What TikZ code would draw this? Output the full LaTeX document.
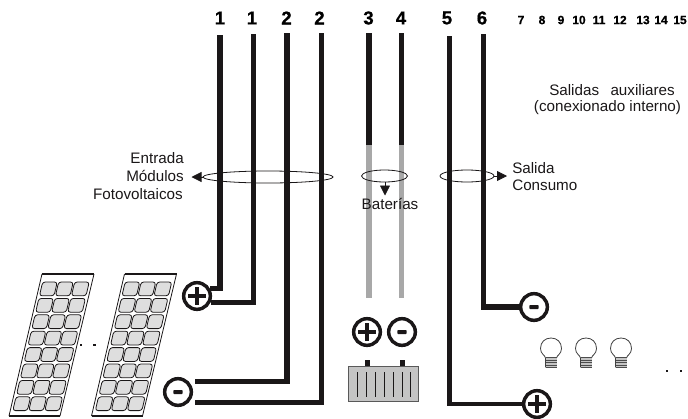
\documentclass[tikz,border=0pt]{standalone}
\usepackage{fontspec}
\setmainfont{Liberation Sans}
\newfontfamily\heavyfont{Liberation Sans Bold}[FakeBold=0.6]
\usetikzlibrary{arrows.meta}
\definecolor{wire}{HTML}{1A1718}
\definecolor{batwire}{HTML}{A8A8A8}
\definecolor{cell}{HTML}{DEDEDE}
\definecolor{batfill}{HTML}{C4C4C4}
\tikzset{
  x=0.75pt,y=-0.75pt,
  wirepath/.style={draw=wire,line width=3.9pt,line cap=butt,line join=miter},
  thinwire/.style={draw=wire,line width=3.3pt,line join=miter},
  graywire/.style={draw=batwire,line width=3.4pt},
  term/.style={circle,draw=wire,fill=white,line width=2.6pt,minimum size=20pt,inner sep=0pt},
  termplus/.style={term,path picture={
    \fill[wire] ([xshift=-6.6pt,yshift=-1.6pt]path picture bounding box.center) rectangle ++(13.2pt,3.2pt);
    \fill[wire] ([xshift=-1.6pt,yshift=-6.6pt]path picture bounding box.center) rectangle ++(3.2pt,13.2pt);}},
  termminus/.style={term,path picture={
    \fill[wire,rounded corners=0.5pt] ([xshift=-3.4pt,yshift=-1.5pt]path picture bounding box.center) rectangle ++(6.8pt,3pt);}},
  bignum/.style={font=\heavyfont\fontsize{14pt}{14pt}\selectfont,text=black,inner sep=0pt},
  smallnum/.style={font=\heavyfont\fontsize{9pt}{9pt}\selectfont,text=black,inner sep=0pt},
  lbl/.style={font=\fontsize{11.4pt}{11.4pt}\selectfont,text=wire,inner sep=0pt},
  ring/.style={draw=wire,line width=0.6pt},
  flow/.style={draw=wire,line width=0.6pt,-{Triangle[length=7.5pt,width=7.5pt]}},
  dotmark/.style={fill=wire,minimum size=2pt,inner sep=0pt},
  panelcell/.style={draw=wire,fill=cell,line width=0.6pt,rounded corners=2pt},
}
\begin{document}
\begin{tikzpicture}
\useasboundingbox (0,0) rectangle (688,418);
% numbers
\node[bignum] (n1) at (220,18) {1};
\node[bignum] (n2) at (252,18) {1};
\node[bignum] (n3) at (286.5,18) {2};
\node[bignum] (n4) at (319.5,18) {2};
\node[bignum] (n5) at (368.5,18) {3};
\node[bignum] (n6) at (401,18) {4};
\node[bignum] (n7) at (447,18) {5};
\node[bignum] (n8) at (482,18) {6};
\foreach \l/\px in {7/521,8/542,9/561,10/579,11/599,12/620,13/643,14/661,15/680}
  \node[smallnum] (s\l) at (\px,20) {\l};
% wire tops
\coordinate (w1) at (220,35);
\coordinate (w2) at (253.5,34);
\coordinate (w3) at (287,33);
\coordinate (w4) at (321.5,33);
\coordinate (w5) at (369,33);
\coordinate (w6) at (401.5,33);
\coordinate (w7) at (449.5,36);
\coordinate (w8) at (483.5,34);
\coordinate (b5) at (369,145);
\coordinate (b6) at (401.5,145);
% terminals
\node[termplus] (pL) at (197,296) {};
\node[termminus] (mL) at (178,392) {};
\node[termplus] (pB) at (367,332) {};
\node[termminus] (mB) at (402,332) {};
\node[termminus] (mR) at (534,307) {};
\node[termplus] (pR) at (537,404) {};
% wires
\draw[wirepath,line width=4.2pt] (w1) |- (pL.30);
\draw[wirepath] (w2) |- (pL.-26);
\draw[wirepath] (w3) |- ([xshift=4.5pt]mL.44);
\draw[thinwire] (w4) |- ([xshift=4.5pt]mL.-44);
\draw[thinwire,line width=3.9pt] (w5) -- (b5);
\draw[thinwire] (w6) -- (b6);
\draw[graywire,line width=3.9pt] (b5) -- (b5|-0,298);
\draw[graywire] (b6) -- (b6|-0,298);
\draw[thinwire] (w7) |- (pR.west);
\draw[wirepath] (w8) |- (mR.west);
% rings and labels
\draw[ring] (268,177) ellipse (65 and 6);
\draw[ring] (384.5,176) ellipse (23 and 6);
\draw[ring] (467,176) ellipse (27 and 6);
\coordinate (ringA) at (203,177);
\coordinate (ringB) at (385,182);
\coordinate (ringC) at (494,176);
\node[lbl,anchor=east] (ent) at (184,158) {Entrada};
\node[lbl,anchor=east] (mod) at (184,176) {Módulos};
\node[lbl,anchor=east] (fot) at (183,194) {Fotovoltaicos};
\node[lbl] (bat) at (390,204) {Baterías};
\node[lbl,anchor=west] (sal) at (512,168) {Salida};
\node[lbl,anchor=west] (con) at (512,185.5) {Consumo};
\node[lbl] (aux) at (612,90) {Salidas\hspace{0.75em}auxiliares};
\node[lbl] (int) at (607.5,108) {(conexionado interno)};
\draw[flow] (ringA) -- (191.5,177);
\draw[flow] (ringB) -- (385,195.5);
\draw[flow] (ringC) -- (507,176);
% solar panels
\foreach \dx in {0,82.5}{
  \draw[wire,line width=0.6pt] (42+\dx,274) -- (9+\dx,416);
  \draw[wire,line width=0.6pt] (94+\dx,274) -- (60+\dx,416);
  \draw[wire,line width=1.5pt] (42+\dx,274) -- (94+\dx,274);
  \draw[wire,line width=1.5pt] (9+\dx,416) -- (60+\dx,416);
  \foreach \r in {0,...,7}{
    \foreach \c in {0,1,2}{
      \pgfmathsetmacro{\yt}{282+16.4*\r}
      \pgfmathsetmacro{\yb}{\yt+13.8}
      \pgfmathsetmacro{\xt}{42-0.232*(\yt-274)+2.5+16*\c+\dx}
      \pgfmathsetmacro{\xb}{\xt-0.232*13.8}
      \path[panelcell] (\xt,\yt) -- (\xt+14.6,\yt) -- (\xb+14.6,\yb) -- (\xb,\yb) -- cycle;
    }
  }
}
\node[dotmark] (dotA) at (81,345) {};
\node[dotmark] (dotB) at (94.5,345) {};
% battery
\fill[wire] (364.5,360) rectangle (370,366.5);
\fill[wire] (399.5,360) rectangle (405,366.5);
\draw[fill=batfill,draw=black!65,line width=0.6pt] (348.5,366) rectangle (418,401);
\foreach \bx in {357.5,366.5,375.5,384.5,393.5,402,410}
  \draw[wire,line width=0.6pt] (\bx,372) -- (\bx,397);
% bulbs
\foreach \bx in {551,586,621}{
  \draw[draw=black!75,fill=white,line width=0.6pt]
    (\bx-5.5,367) -- (\bx-5.5,358) .. controls (\bx-6,355) and (\bx-10.5,354) .. (\bx-10.5,348.5)
    .. controls (\bx-10.5,342) and (\bx-6,338) .. (\bx,338)
    .. controls (\bx+6,338) and (\bx+10.5,342) .. (\bx+10.5,348.5)
    .. controls (\bx+10.5,354) and (\bx+6,355) .. (\bx+5.5,358) -- (\bx+5.5,367) -- cycle;
  \fill[batfill] (\bx-5.5,357) rectangle (\bx+5.5,367);
  \foreach \by in {357.5,360,362.5,365,367}
    \draw[black!70,line width=0.55pt] (\bx-5.5,\by) -- (\bx+5.5,\by);
}
\node[dotmark] (dotC) at (667,371) {};
\node[dotmark] (dotD) at (681,371) {};
\end{tikzpicture}
\end{document}
